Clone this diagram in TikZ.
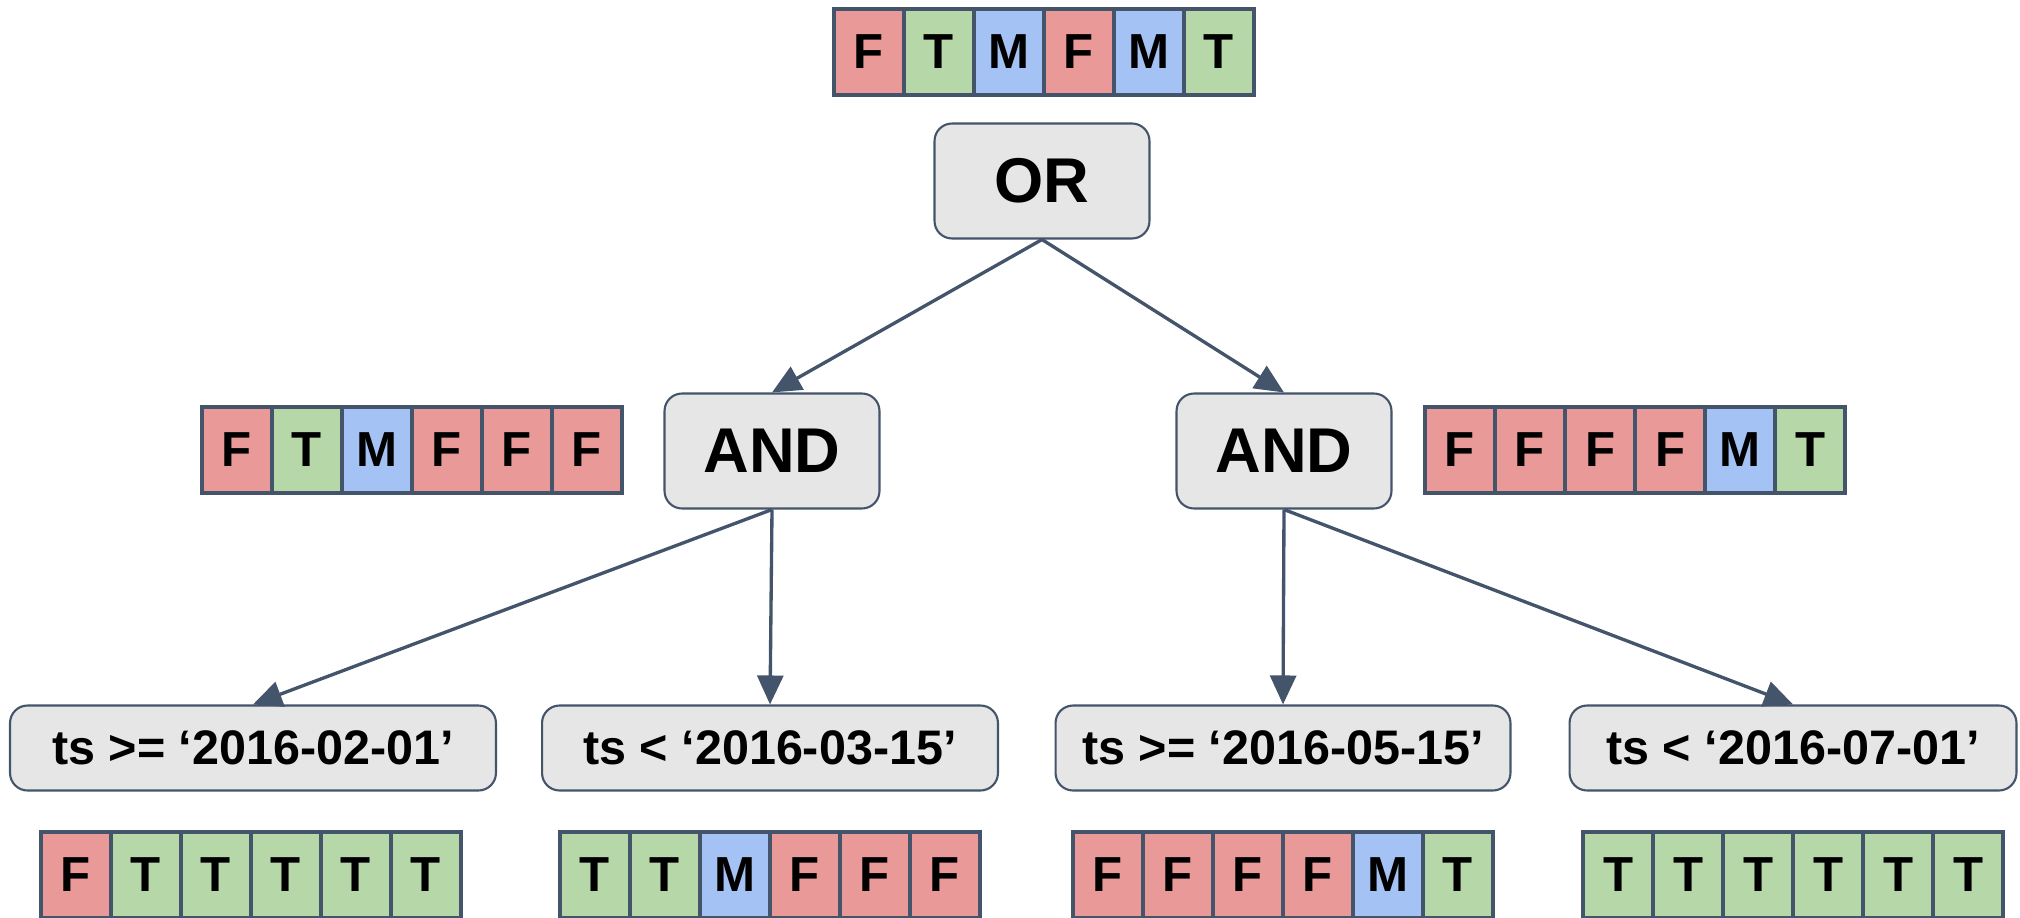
\documentclass[tikz,border=0pt]{standalone}
\usepackage{fontspec}
\setmainfont{Liberation Sans}
\usetikzlibrary{arrows.meta}
\definecolor{Slate}{RGB}{68,84,106}
\definecolor{CellRed}{RGB}{234,153,153}
\definecolor{CellGreen}{RGB}{182,215,168}
\definecolor{CellBlue}{RGB}{164,194,244}
\definecolor{BoxGray}{RGB}{230,230,230}
\colorlet{colF}{CellRed}
\colorlet{colT}{CellGreen}
\colorlet{colM}{CellBlue}

\tikzset{
  cell/.style={draw=Slate, line width=2.2pt, minimum width=1.4cm, minimum height=1.72cm, inner sep=0pt, font=\fontsize{28}{32}\selectfont\bfseries},
  op/.style={draw=Slate, fill=BoxGray, line width=1.2pt, rounded corners=0.35cm, minimum width=4.3cm, minimum height=2.3cm, font=\fontsize{36}{42}\selectfont\bfseries},
  leaf/.style={draw=Slate, fill=BoxGray, line width=1.2pt, rounded corners=0.35cm, minimum height=1.7cm, font=\fontsize{27.6}{32}\selectfont\bfseries},
  link/.style={Slate, line width=1.9pt, -{Triangle[length=0.58cm,width=0.52cm]}}
}

\begin{document}
\begin{tikzpicture}[x=0.02cm, y=-0.02cm]
    \useasboundingbox (0,0) rectangle (2020,918);
    \clip (0,0) rectangle (2020,918);

    % Result of the OR
    \foreach \c [count=\i] in {F,T,M,F,M,T}
        \node[cell, fill=col\c] (top\i) at (799+70*\i,52) {\c};

    % Operators
    \node[op] (or) at (1042,181) {OR};
    \node[op] (andL) at (772,451) {AND};
    \node[op] (andR) at (1284,451) {AND};

    % Results of the ANDs
    \foreach \c [count=\i] in {F,T,M,F,F,F}
        \node[cell, fill=col\c] (midL\i) at (167+70*\i,450) {\c};
    \foreach \c [count=\i] in {F,F,F,F,M,T}
        \node[cell, fill=col\c] (midR\i) at (1390+70*\i,450) {\c};

    % Predicates
    \node[leaf, minimum width=9.72cm] (p1) at (253,748) {ts >= ‘2016-02-01’};
    \node[leaf, minimum width=9.12cm] (p2) at (770,748) {ts < ‘2016-03-15’};
    \node[leaf, minimum width=9.1cm] (p3) at (1283,748) {ts >= ‘2016-05-15’};
    \node[leaf, minimum width=8.94cm] (p4) at (1793,748) {ts < ‘2016-07-01’};

    % Results of the predicates
    \foreach \c [count=\i] in {F,T,T,T,T,T}
        \node[cell, fill=col\c] (bot1\i) at (6+70*\i,875) {\c};
    \foreach \c [count=\i] in {T,T,M,F,F,F}
        \node[cell, fill=col\c] (bot2\i) at (525+70*\i,875) {\c};
    \foreach \c [count=\i] in {F,F,F,F,M,T}
        \node[cell, fill=col\c] (bot3\i) at (1038+70*\i,875) {\c};
    \foreach \c [count=\i] in {T,T,T,T,T,T}
        \node[cell, fill=col\c] (bot4\i) at (1548+70*\i,875) {\c};

    % Connections
    \draw[link] (or.south) -- (andL.north);
    \draw[link] (or.south) -- (andR.north);
    \draw[link] (andL.south) -- (p1.north);
    \draw[link] (andL.south) -- (p2.north);
    \draw[link] (andR.south) -- (p3.north);
    \draw[link] (andR.south) -- (p4.north);
\end{tikzpicture}
\end{document}
